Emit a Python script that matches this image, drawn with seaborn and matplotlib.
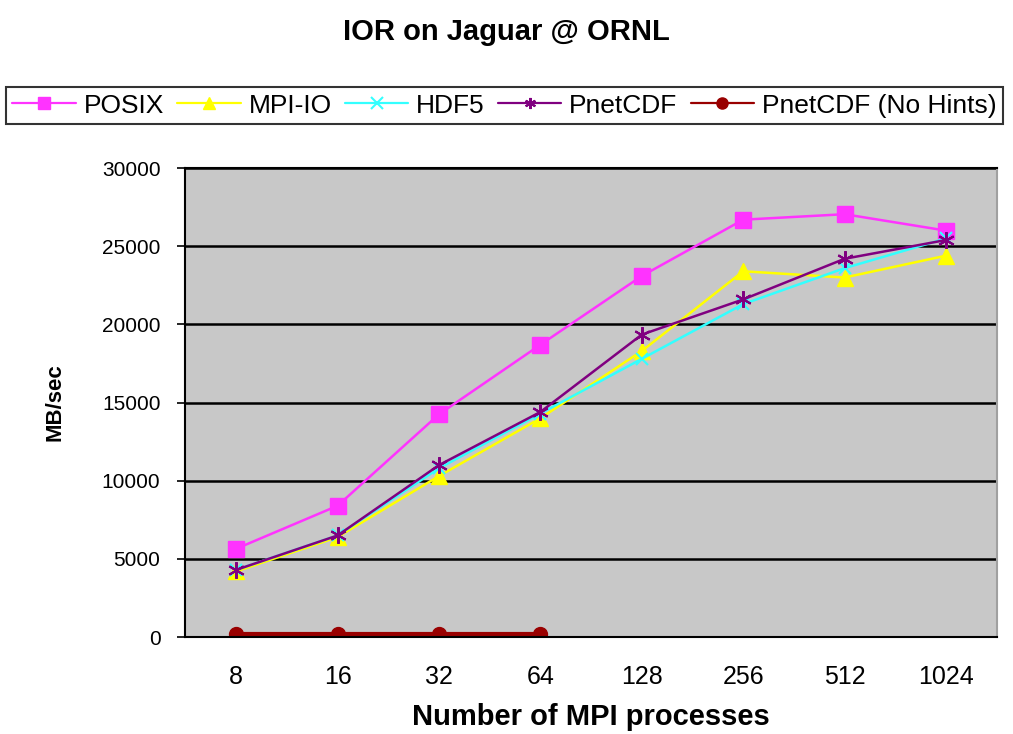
import matplotlib
matplotlib.use("Agg")
import matplotlib.pyplot as plt
import seaborn as sns
import pandas as pd
import numpy as np

# Aggregate write bandwidth (MB/sec) for IOR runs on Jaguar
processes = ["8", "16", "32", "64", "128", "256", "512", "1024"]
posix = [5650, 8400, 14250, 18700, 23100, 26700, 27050, 26000]
mpiio = [4200, 6400, 10300, 14000, 18300, 23400, 23000, 24400]
hdf5 = [4300, 6500, 10800, 14300, 17800, 21300, 23600, 25500]
pnetcdf = [4300, 6500, 11000, 14400, 19350, 21600, 24200, 25400]
pnetcdf_nohints = [200, 200, 200, 200]

series = {
    "POSIX": posix,
    "MPI-IO": mpiio,
    "HDF5": hdf5,
    "PnetCDF": pnetcdf,
    "PnetCDF (No Hints)": pnetcdf_nohints,
}

rows = []
for name, vals in series.items():
    for i, v in enumerate(vals):
        rows.append({"pos": i, "procs": processes[i], "MB/sec": v, "API": name})
df = pd.DataFrame(rows)

sns.set_theme(style="white")
plt.rcParams["font.family"] = ["Liberation Sans", "DejaVu Sans"]
plt.rcParams["text.color"] = "black"
plt.rcParams["axes.labelcolor"] = "black"
plt.rcParams["xtick.color"] = "black"
plt.rcParams["ytick.color"] = "black"

colors = {
    "POSIX": "#FF33FF",
    "MPI-IO": "#FFFF00",
    "HDF5": "#33FFFF",
    "PnetCDF": "#800080",
    "PnetCDF (No Hints)": "#990000",
}
asterisk = (6, 2, 0)
markers = {
    "POSIX": "s",
    "MPI-IO": "^",
    "HDF5": "x",
    "PnetCDF": asterisk,
    "PnetCDF (No Hints)": "o",
}
msizes = {"POSIX": 12, "MPI-IO": 11, "HDF5": 9, "PnetCDF": 12, "PnetCDF (No Hints)": 10}

fig = plt.figure(figsize=(10.13, 7.34), dpi=100)
ax = fig.add_axes([0.183, 0.132, 0.801, 0.639])
ax.set_facecolor("#C8C8C8")

for name in series:
    sub = df[df["API"] == name]
    sns.lineplot(
        data=sub, x="pos", y="MB/sec", ax=ax, color=colors[name],
        marker=markers[name], markersize=msizes[name],
        markeredgecolor=colors[name], markerfacecolor=colors[name],
        markeredgewidth=1.5 if name in ("HDF5", "PnetCDF") else 1,
        linewidth=1.8 if name != "PnetCDF (No Hints)" else 3,
        label=name, legend=False,
    )

ax.set_xlim(-0.5, len(processes) - 0.5)
ax.set_ylim(0, 30000)
ax.set_yticks(np.arange(0, 30001, 5000))
ax.set_xticks(range(len(processes)))
ax.set_xticklabels(processes)
ax.set_xticks(np.arange(-0.5, len(processes), 1.0), minor=True)
ax.tick_params(axis="x", which="major", length=0, pad=20, labelsize=18)
ax.tick_params(axis="x", which="minor", length=6, width=1.2, color="black", direction="out")
ax.tick_params(axis="y", length=6, width=1.2, color="black", direction="out",
               labelsize=15, left=True, pad=12)
ax.yaxis.grid(True, color="black", linewidth=1.8)
ax.set_axisbelow(True)

for side in ("left", "bottom"):
    ax.spines[side].set_color("black")
    ax.spines[side].set_linewidth(1.5)
ax.spines["top"].set_color("black")
ax.spines["top"].set_linewidth(1.5)
ax.spines["right"].set_color("#A0A0A0")
ax.spines["right"].set_linewidth(1.5)

ax.set_xlabel("Number of MPI processes", fontsize=21, fontweight="bold", labelpad=10)
ax.set_ylabel("MB/sec", fontsize=16, fontweight="bold", labelpad=26)

fig.suptitle("IOR on Jaguar @ ORNL", fontsize=21, fontweight="bold", y=0.975)

handles, labels = ax.get_legend_handles_labels()
leg = fig.legend(
    handles, labels, loc="center", bbox_to_anchor=(0.498, 0.856),
    ncol=5, fontsize=19, frameon=True, fancybox=False,
    edgecolor="black", handlelength=2.4, handletextpad=0.3, columnspacing=0.5,
    borderpad=0.25, borderaxespad=0,
)
leg.get_frame().set_linewidth(1.5)
for h in leg.legend_handles:
    h.set_markersize(8)
    h.set_linewidth(1.6)

fig.savefig("out.png", dpi=100, facecolor="white")
